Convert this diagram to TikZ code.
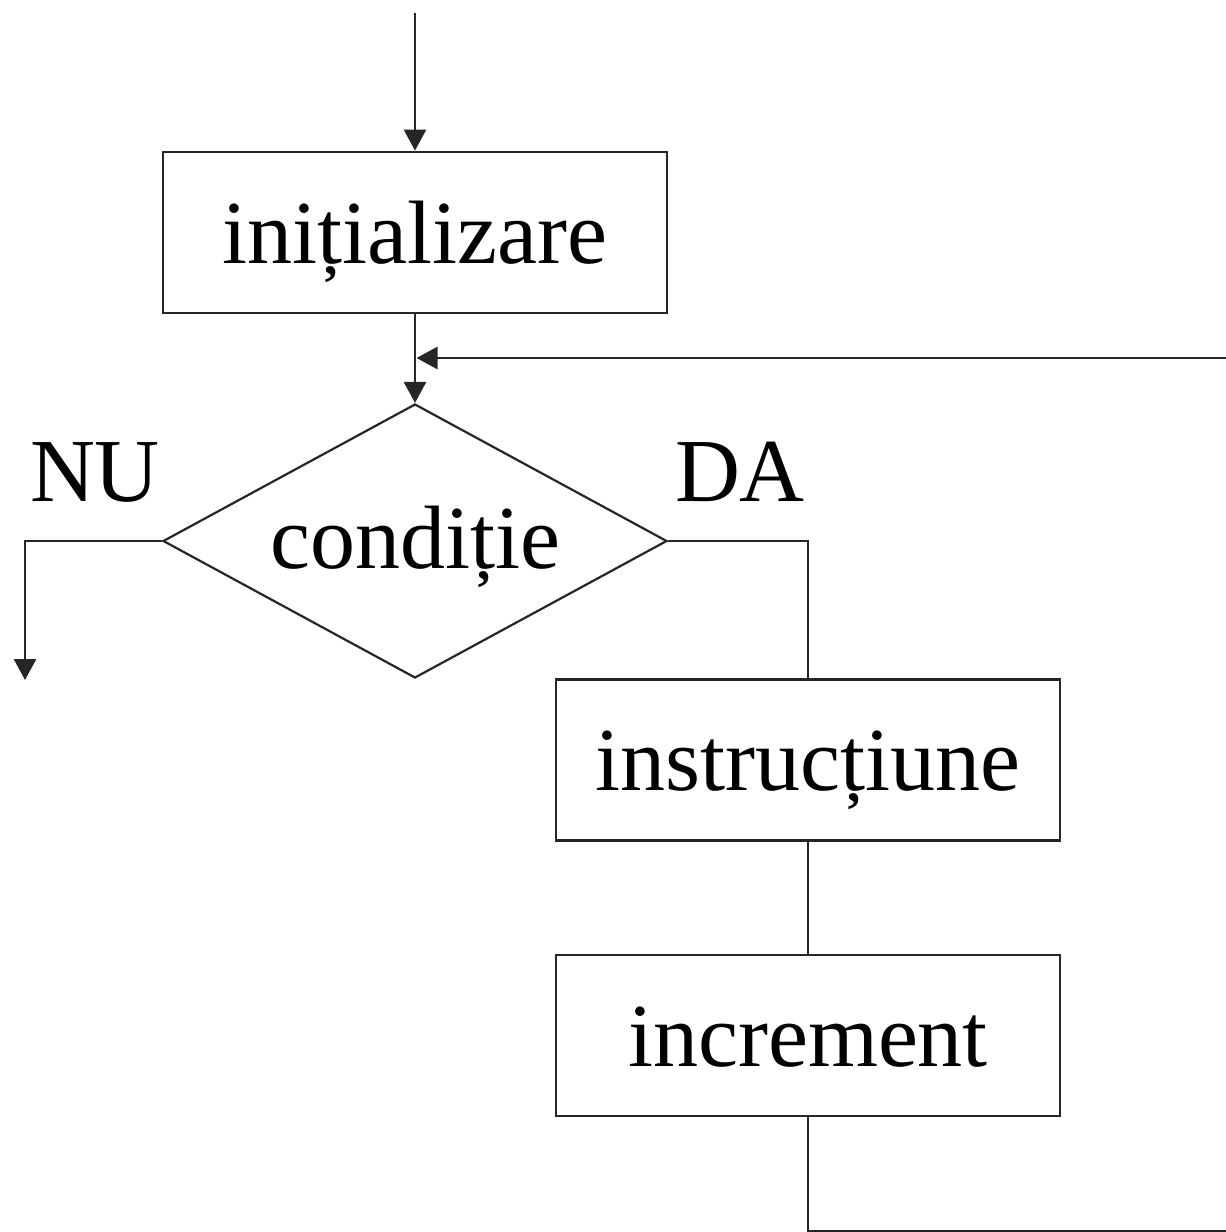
\documentclass[tikz,border=0pt]{standalone}
\usepackage{fontspec}
\setmainfont{Liberation Serif}
\usetikzlibrary{shapes.geometric,arrows.meta,calc}
\begin{document}
\begin{tikzpicture}[x=1pt,y=1pt,
  line width=2.8pt, draw=black!85,
  every node/.style={font=\fontsize{90}{100}\selectfont, inner sep=0pt},
  blockbox/.style={draw, rectangle, minimum width=504pt, minimum height=161pt,
    text height=61pt, text depth=0pt},
  testbox/.style={draw, diamond, minimum width=504pt, minimum height=274pt, aspect=1.84, line width=2.2pt},
  flow/.style={-{Triangle[width=22pt,length=21pt]}},
  label/.style={anchor=base}]
\useasboundingbox (0,0) rectangle (1226,-1232);

% blocks
\node[blockbox] (init) at (415,-232.5) {inițializare};
\node[testbox] (cond) at (415,-541) {};
\node (condtext) at (415,-547) {condiție};
\node[blockbox] (instr) at (808,-760) {instrucțiune};
\node[blockbox] (incr) at (808,-1035.5) {increment};

% branch labels
\node[label] (nu) at (95,-501) {NU};
\node[label] (da) at (740,-501) {DA};

% free ends and corners of the loop
\coordinate (start) at (415,-13);
\coordinate (exit) at (25,-680);
\coordinate (join) at (415,-358);
\coordinate (br) at (1245,-1231);
\coordinate (tr) at (1245,-358);

% connectors
\draw[flow] (start) -- (init.north);
\draw[flow] (init.south) -- (cond.north);
\draw[flow] (cond.west) -| (exit);
\draw (cond.east) -| (instr.north);
\draw (instr.south) -- (incr.north);
\draw[flow] (incr.south) |- (br) -- (tr) -- ([xshift=1.5pt]join);
\end{tikzpicture}
\end{document}
